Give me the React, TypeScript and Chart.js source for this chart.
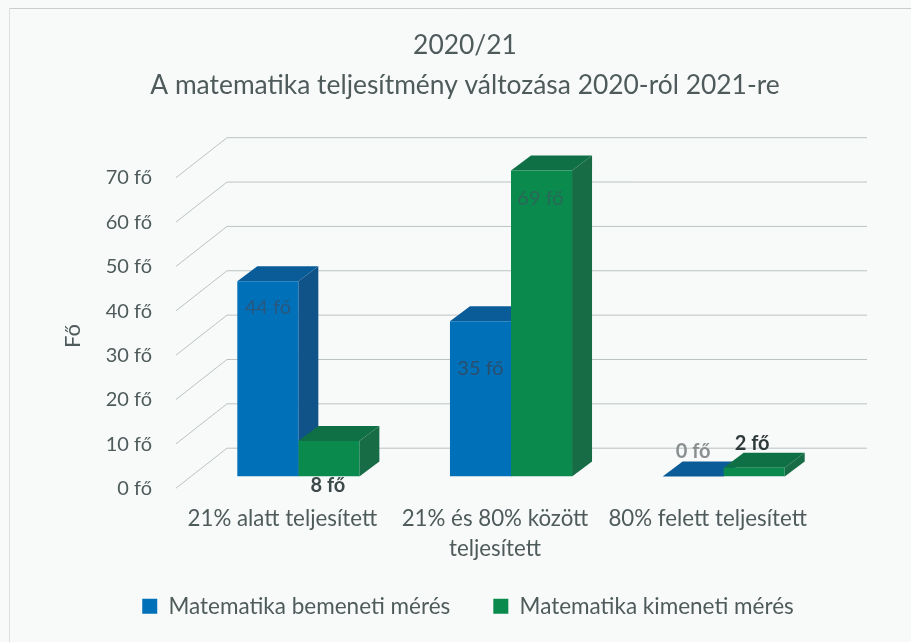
import React, { useEffect, useRef } from "react";
import { Chart, registerables } from "chart.js";

Chart.register(...registerables);

const titleLines = ["2020/21", "A matematika teljesítmény változása 2020-ról 2021-re"];
const categories: (string | string[])[] = [
  "21% alatt teljesített",
  ["21% és 80% között", "teljesített"],
  "80% felett teljesített",
];
const bemeneti = [44, 35, 0];
const kimeneti = [8, 69, 2];
const yTicksMax = 70;
const yAxisTitle = "Fő";

const FONT = "Lato, Carlito, 'Open Sans', sans-serif";
const TEXT = "#4f5b5b";

// colours of the three visible faces of each block
const faces = [
  { front: "#0070b9", top: "#0a5c98", side: "#0f5389" },
  { front: "#0a8a4d", top: "#0f7045", side: "#176b45" },
];
// oblique projection of the box depth
const BAR_DX = 20;
const BAR_DY = 15;
// offset of the axis (front) and the wall (back) from the plane of the bars
const FRONT = { x: 176, dy: 11.7 };
const BACK = { x: 227, dy: -28.3, right: 867 };

// data-label placement relative to the top-centre of the bar
const labelStyles = [
  [
    { dy: 26, dx: 0, color: "rgba(45,85,120,0.9)", weight: "400" },
    { dy: 45, dx: -1, color: "#3d4a4a", weight: "700" },
  ],
  [
    { dy: 47, dx: 0, color: "rgba(45,75,100,0.9)", weight: "400" },
    { dy: 28, dx: -1, color: "rgba(45,100,90,0.9)", weight: "400" },
  ],
  [
    { dy: -25, dx: 0, color: "#8a9090", weight: "700" },
    { dy: -24, dx: -2, color: "#2f3a3a", weight: "700" },
  ],
];

const scene3d = {
  id: "scene3d",
  afterLayout(chart: any) {
    const lg = chart.legend;
    lg.top = 606 - 43 - 11;
    lg.left += 3;
    lg.right += 3;
  },
  beforeDraw(chart: any) {
    const { ctx, width, height } = chart;
    ctx.save();
    ctx.fillStyle = "#f8fafa";
    ctx.fillRect(0, 0, width, height);
    ctx.lineWidth = 1;
    ctx.strokeStyle = "#c9cdcd";
    ctx.beginPath();
    ctx.moveTo(10, 8.5);
    ctx.lineTo(width, 8.5);
    ctx.stroke();
    ctx.strokeStyle = "#dde0e0";
    ctx.beginPath();
    ctx.moveTo(9.5, 8);
    ctx.lineTo(9.5, height);
    ctx.stroke();
    ctx.translate(73, 336);
    ctx.rotate(-Math.PI / 2);
    ctx.fillStyle = TEXT;
    ctx.font = `400 22px ${FONT}`;
    ctx.textAlign = "center";
    ctx.textBaseline = "middle";
    ctx.fillText(yAxisTitle, 0, 0);
    ctx.restore();
  },
  beforeDatasetsDraw(chart: any) {
    const { ctx } = chart;
    const yScale = chart.scales.y;
    ctx.save();
    ctx.strokeStyle = "#bcc2c2";
    ctx.lineWidth = 1;
    yScale.ticks.forEach((t: any) => {
      const y = yScale.getPixelForValue(t.value);
      ctx.beginPath();
      ctx.moveTo(FRONT.x, y + FRONT.dy);
      ctx.lineTo(BACK.x, y + BACK.dy);
      ctx.lineTo(BACK.right, y + BACK.dy);
      ctx.stroke();
    });
    // sides and tops go under every front face
    chart.data.datasets.forEach((_: any, di: number) => {
      const meta = chart.getDatasetMeta(di);
      const c = faces[di];
      meta.data.forEach((bar: any) => {
        const p = bar.getProps(["x", "y", "base", "width"], true);
        const l = p.x - p.width / 2;
        const r = p.x + p.width / 2;
        ctx.fillStyle = c.side;
        ctx.beginPath();
        ctx.moveTo(r, p.y);
        ctx.lineTo(r + BAR_DX, p.y - BAR_DY);
        ctx.lineTo(r + BAR_DX, p.base - BAR_DY);
        ctx.lineTo(r, p.base);
        ctx.closePath();
        ctx.fill();
        ctx.fillStyle = c.top;
        ctx.beginPath();
        ctx.moveTo(l, p.y);
        ctx.lineTo(l + BAR_DX, p.y - BAR_DY);
        ctx.lineTo(r + BAR_DX, p.y - BAR_DY);
        ctx.lineTo(r, p.y);
        ctx.closePath();
        ctx.fill();
      });
    });
    ctx.restore();
  },
  afterDatasetsDraw(chart: any) {
    const { ctx } = chart;
    ctx.save();
    ctx.textAlign = "center";
    ctx.textBaseline = "middle";
    chart.data.datasets.forEach((ds: any, di: number) => {
      chart.getDatasetMeta(di).data.forEach((bar: any, i: number) => {
        const p = bar.getProps(["x", "y"], true);
        const s = labelStyles[i][di];
        ctx.font = `${s.weight} 20px ${FONT}`;
        ctx.fillStyle = s.color;
        ctx.fillText(`${ds.data[i]} fő`, p.x + s.dx, p.y + s.dy);
      });
    });
    ctx.restore();
  },
};

export default function App() {
  const ref = useRef<HTMLCanvasElement>(null);
  useEffect(() => {
    const chart = new Chart(ref.current!, {
      type: "bar",
      data: {
        labels: categories,
        datasets: [
          { label: "Matematika bemeneti mérés", data: bemeneti, backgroundColor: faces[0].front },
          { label: "Matematika kimeneti mérés", data: kimeneti, backgroundColor: faces[1].front },
        ],
      },
      options: {
        animation: false,
        responsive: false,
        layout: { padding: { left: 19, top: 0, right: 0, bottom: 18 } },
        datasets: { bar: { barPercentage: 1, categoryPercentage: 0.574 } },
        plugins: {
          title: {
            display: true,
            text: titleLines,
            color: TEXT,
            font: { family: FONT, size: 26.4, weight: "400", lineHeight: 1.515 },
            padding: { top: 25, bottom: 61 },
          },
          legend: {
            position: "bottom",
            labels: {
              color: TEXT,
              font: { family: FONT, size: 22.5 },
              boxWidth: 15,
              boxHeight: 15,
              padding: 43,
            },
          },
          tooltip: { enabled: false },
        },
        scales: {
          x: {
            afterFit(s: any) {
              s.height = 72;
              // the second line of a label runs below the axis box
              s._computeLabelArea = () => undefined;
            },
            grid: { display: false, drawTicks: false },
            border: { display: false },
            ticks: {
              color: TEXT,
              font: { family: FONT, size: 22.3, lineHeight: 1.34 },
              padding: 27,
              labelOffset: -16,
              maxRotation: 0,
              minRotation: 0,
              autoSkip: false,
            },
          },
          y: {
            min: 0,
            max: yTicksMax,
            afterFit(s: any) {
              s.width = 173;
            },
            grid: { display: false, drawTicks: false },
            border: { display: false },
            ticks: {
              stepSize: 10,
              color: TEXT,
              font: { family: FONT, size: 20 },
              padding: 40,
              labelOffset: 12,
              callback: (v: any) => `${v} fő`,
            },
          },
          y2: {
            position: "right",
            afterFit(s: any) {
              s.width = 81;
            },
            grid: { display: false, drawTicks: false },
            border: { display: false },
            ticks: { display: false },
          },
        },
      },
      plugins: [scene3d],
    } as any);
    return () => chart.destroy();
  }, []);
  return (
    <div style={{ position: "fixed", left: 0, top: 0 }}>
      <canvas ref={ref} width={911} height={642} style={{ display: "block" }} />
    </div>
  );
}
